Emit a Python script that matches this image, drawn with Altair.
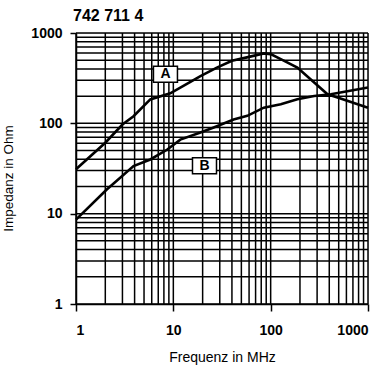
import altair as alt
import pandas as pd

# Curve A (frequency MHz, impedance Ohm)
a_freq = [1, 2, 3, 3.9, 5.8, 9.3, 11.8, 19, 28, 40, 57, 85, 100, 127, 188, 280, 384, 487, 1000]
a_imp = [31, 61, 97, 120, 184, 215, 249, 333, 414, 492, 537, 594, 584, 514, 415, 283, 210, 193, 149]

# Curve B
b_freq = [1, 2.07, 3.9, 5.8, 8.6, 11.8, 19, 26, 41.6, 57.5, 85, 127, 188, 280, 415, 1000]
b_imp = [8.6, 18.5, 33.6, 39.8, 51, 66, 79, 90, 110, 121, 149, 163, 185, 201, 210, 249]

# Curve labels
label_text = ["A", "B"]
label_freq = [8.3, 20.9]
label_imp = [350, 34]

# Log grid values
grid_vals = [m * 10 ** e for e in range(3) for m in range(1, 10)] + [1000]
major_vals = [1, 10, 100, 1000]

df = pd.concat([
    pd.DataFrame({"f": a_freq, "z": a_imp, "curve": "A"}),
    pd.DataFrame({"f": b_freq, "z": b_imp, "curve": "B"}),
])
lab = pd.DataFrame({"t": label_text, "f": label_freq, "z": label_imp})
gdf = pd.DataFrame({"v": grid_vals})

xs = alt.Scale(type="log", domain=[1, 1000], nice=False)
ys = alt.Scale(type="log", domain=[1, 1000], nice=False)

font = "Liberation Sans"

xaxis = alt.Axis(values=major_vals, grid=False, title="Frequenz in MHz",
                 labelFont=font, labelFontSize=14, labelFontWeight="bold", labelColor="black",
                 titleFont=font, titleFontSize=14, titleFontWeight="normal", titleColor="black",
                 tickSize=7, tickColor="black", tickWidth=1.5, domainColor="black", domainWidth=1.5,
                 labelPadding=12, titlePadding=13, labelExpr="datum.value")
yaxis = alt.Axis(values=major_vals, grid=False, title="Impedanz in Ohm",
                 labelFont=font, labelFontSize=14, labelFontWeight="bold", labelColor="black",
                 titleFont=font, titleFontSize=13.5, titleFontWeight="normal", titleColor="black",
                 tickSize=6, tickColor="black", tickWidth=1.5, domainColor="black", domainWidth=1.5,
                 labelPadding=8, titleX=-61, titleY=145, titleBaseline="bottom",
                 labelExpr="datum.value")

vgrid = alt.Chart(gdf).mark_rule(color="black", strokeWidth=1.5).encode(
    x=alt.X("v:Q", scale=xs, axis=xaxis)
)
hgrid = alt.Chart(gdf).mark_rule(color="black", strokeWidth=1.5).encode(
    y=alt.Y("v:Q", scale=ys, axis=yaxis)
)

lines = alt.Chart(df).mark_line(color="black", strokeWidth=2.6).encode(
    x=alt.X("f:Q", scale=xs),
    y=alt.Y("z:Q", scale=ys),
    detail="curve:N",
)

boxes = alt.Chart(lab).mark_point(
    shape="M-1.5,-1H1.5V1H-1.5Z", size=256, filled=True, fill="white",
    stroke="black", strokeWidth=1.5, opacity=1
).encode(x=alt.X("f:Q", scale=xs), y=alt.Y("z:Q", scale=ys))

texts = alt.Chart(lab).mark_text(font=font, fontSize=14, fontWeight="bold", color="black").encode(
    x=alt.X("f:Q", scale=xs), y=alt.Y("z:Q", scale=ys), text="t:N"
)

chart = alt.layer(vgrid, hgrid, lines, boxes, texts).properties(
    width=292, height=271,
    title=alt.TitleParams("742 711 4", anchor="start", frame="group", font=font,
                          fontSize=16, fontWeight="bold", color="black", offset=10, dx=-3,
                          dy=8),
    autosize=alt.AutoSizeParams(type="none"),
    padding={"left": 76, "top": 33, "right": 17, "bottom": 62},
).configure_view(stroke="black", strokeWidth=1.5).configure(background="white")

chart.save("out.html", embed_options={"renderer": "svg", "actions": False})
